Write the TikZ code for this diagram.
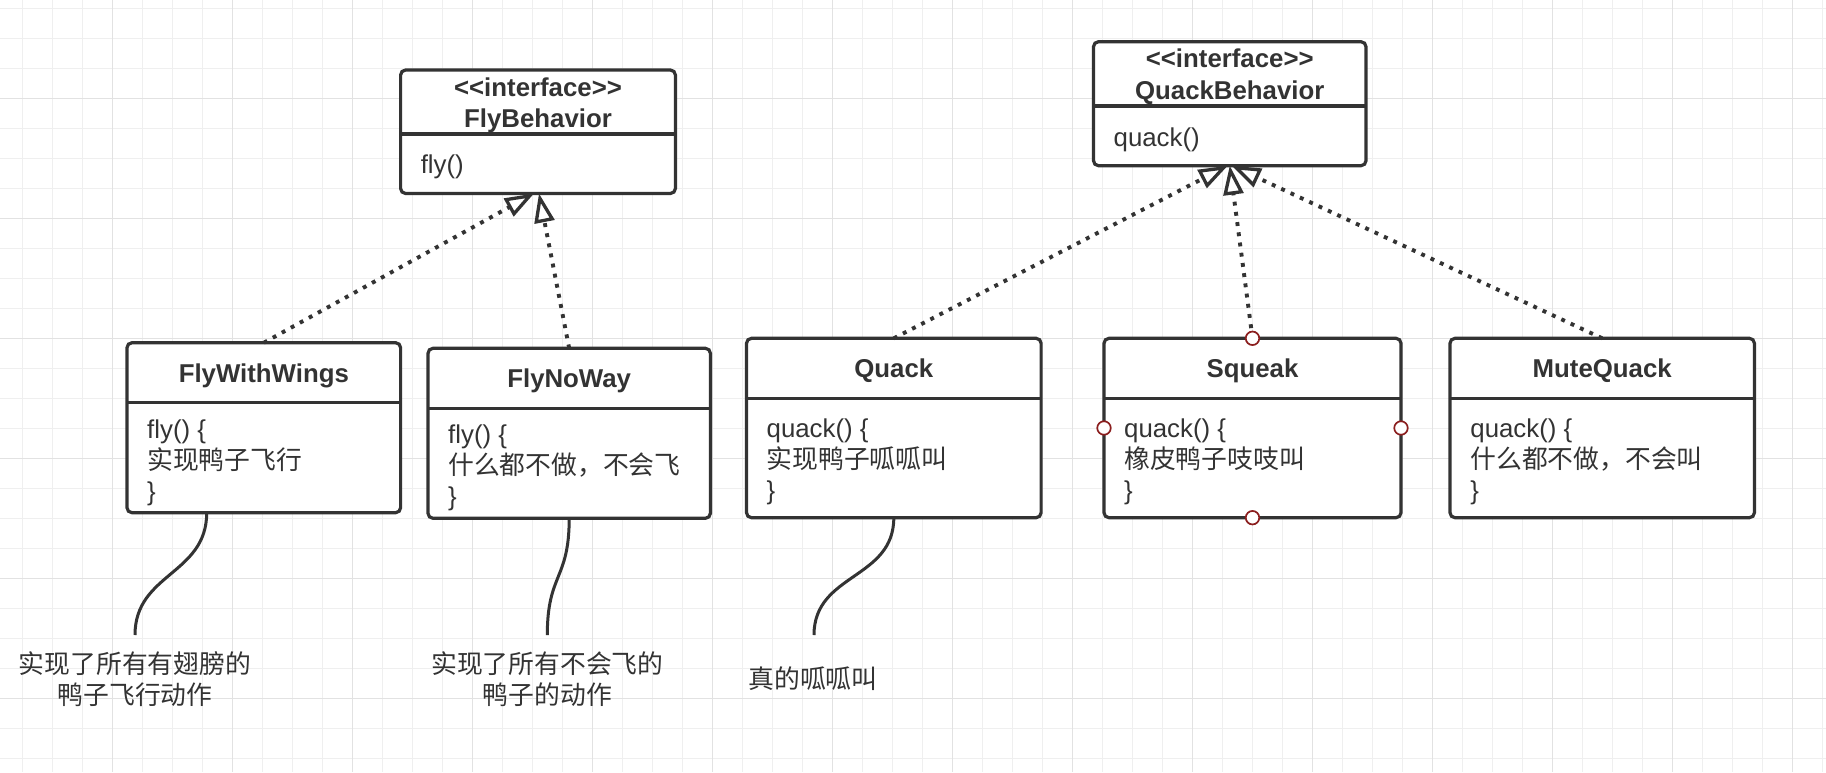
\documentclass[tikz,border=0pt]{standalone}
\usepackage{fontspec}
\newfontfamily\arialf{Liberation Sans}
\newfontfamily\cjk{Noto Sans CJK SC}
\usetikzlibrary{arrows.meta,calc}
\definecolor{ink}{HTML}{333333}
\definecolor{gridminor}{HTML}{EFEFEF}
\definecolor{gridmajor}{HTML}{E2E2E2}
\definecolor{handlered}{HTML}{8B1E1E}
\begin{document}
\begin{tikzpicture}[x=1pt,y=-1pt,
  lbl/.style={font=\arialf\fontsize{25.8}{31}\selectfont, text=ink, inner sep=0pt, anchor=base},
  lblw/.style={lbl, anchor=base west},
  bld/.style={lbl, font=\arialf\bfseries\fontsize{25.8}{31}\selectfont},
  classbox/.style={draw=ink, line width=3.2pt, rounded corners=5pt, fill=white, outer sep=0pt, inner sep=0pt},
  divline/.style={draw=ink, line width=3.2pt},
  realize/.style={draw=ink, line width=3.9pt, dash pattern=on 3.9pt off 6.4pt,
    -{Triangle[length=29pt,width=20pt,fill=white,line width=3.3pt]}},
  notecurve/.style={draw=ink, line width=3pt},
  handle/.style={circle, draw=handlered, line width=1.7pt, fill=white, minimum size=13.5pt, inner sep=0pt}
]
% background and grid
\fill[white] (0,0) rectangle (1826,772);
\useasboundingbox (0,0) rectangle (1826,772);
\foreach \i in {0,...,60} \draw[gridminor, line width=1.5pt] (22.7+30*\i,0) -- (22.7+30*\i,772);
\foreach \j in {0,...,25} \draw[gridminor, line width=1.5pt] (0,8.3+30*\j) -- (1826,8.3+30*\j);
\foreach \i in {0,...,14} \draw[gridmajor, line width=1.5pt] (112.7+120*\i,0) -- (112.7+120*\i,772);
\foreach \j in {0,...,5} \draw[gridmajor, line width=1.5pt] (0,98.3+120*\j) -- (1826,98.3+120*\j);

% FlyBehavior
\node[classbox, minimum width=274.8pt, minimum height=123.5pt] (fb) at (538,131.75) {};
\draw[divline] ($(fb.north west)+(0,64)$) -- ($(fb.north east)+(0,64)$);
\node[bld] (fbs) at (538,96) {<<interface>>};
\node[bld] (fbn) at (538,127.3) {FlyBehavior};
\node[lblw] (fbm) at (420.6,173.5) {fly()};

% QuackBehavior
\node[classbox, minimum width=272.5pt, minimum height=124pt] (qb) at (1229.75,103.7) {};
\draw[divline] ($(qb.north west)+(0,64.3)$) -- ($(qb.north east)+(0,64.3)$);
\node[bld] (qbs) at (1229.75,67.3) {<<interface>>};
\node[bld] (qbn) at (1229.75,99) {QuackBehavior};
\node[lblw] (qbm) at (1113.5,146) {quack()};

% FlyWithWings
\node[classbox, minimum width=273.6pt, minimum height=170pt] (fww) at (263.8,427.7) {};
\draw[divline] ($(fww.north west)+(0,60)$) -- ($(fww.north east)+(0,60)$);
\node[bld] (fwwt) at (263.8,382.5) {FlyWithWings};
\node[lblw] (fww1) at (147,438) {fly() \{};
\node[lblw] (fww2) at (147,469) {\cjk 实现鸭子飞行};
\node[lblw] (fww3) at (147,500) {\}};

% FlyNoWay
\node[classbox, minimum width=282.4pt, minimum height=170pt] (fnw) at (569.2,433.3) {};
\draw[divline] ($(fnw.north west)+(0,60)$) -- ($(fnw.north east)+(0,60)$);
\node[bld] (fnwt) at (569.2,387.5) {FlyNoWay};
\node[lblw] (fnw1) at (448,443) {fly() \{};
\node[lblw] (fnw2) at (448,474) {\cjk 什么都不做，不会飞};
\node[lblw] (fnw3) at (448,505) {\}};

% Quack
\node[classbox, minimum width=294.6pt, minimum height=179.4pt] (qk) at (893.8,428) {};
\draw[divline] ($(qk.north west)+(0,60)$) -- ($(qk.north east)+(0,60)$);
\node[bld] (qkt) at (893.8,377.5) {Quack};
\node[lblw] (qk1) at (766.5,437.5) {quack() \{};
\node[lblw] (qk2) at (766.5,468.5) {\cjk 实现鸭子呱呱叫};
\node[lblw] (qk3) at (766.5,499.5) {\}};

% Squeak
\node[classbox, minimum width=297pt, minimum height=179.4pt] (sq) at (1252.5,428) {};
\draw[divline] ($(sq.north west)+(0,60)$) -- ($(sq.north east)+(0,60)$);
\node[bld] (sqt) at (1252.5,377.5) {Squeak};
\node[lblw] (sq1) at (1124,437.5) {quack() \{};
\node[lblw] (sq2) at (1124,468.5) {\cjk 橡皮鸭子吱吱叫};
\node[lblw] (sq3) at (1124,499.5) {\}};

% MuteQuack
\node[classbox, minimum width=304.4pt, minimum height=179.4pt] (mq) at (1602.2,428) {};
\draw[divline] ($(mq.north west)+(0,60)$) -- ($(mq.north east)+(0,60)$);
\node[bld] (mqt) at (1602.2,377.5) {MuteQuack};
\node[lblw] (mq1) at (1470.2,437.5) {quack() \{};
\node[lblw] (mq2) at (1470.2,468.5) {\cjk 什么都不做，不会叫};
\node[lblw] (mq3) at (1470.2,499.5) {\}};

% notes
\node[lbl] (n1a) at (135,673) {\cjk 实现了所有有翅膀的};
\node[lbl] (n1b) at (135,704) {\cjk 鸭子飞行动作};
\node[lbl] (n2a) at (547.3,673) {\cjk 实现了所有不会飞的};
\node[lbl] (n2b) at (547.3,704) {\cjk 鸭子的动作};
\node[lbl] (n3) at (813,688) {\cjk 真的呱呱叫};
\coordinate (n1top) at (135,635);
\coordinate (n2top) at (547.3,635);
\coordinate (n3top) at (814,635);

\draw[notecurve] ($(fww.south west)+(79.7,0)$) .. controls +(0,62) and +(0,-62) .. (n1top);
\draw[notecurve] (fnw.south) .. controls +(0,62) and +(0,-62) .. (n2top);
\draw[notecurve] (qk.south) .. controls +(0,62) and +(0,-62) .. (n3top);

% realization connectors
\draw[realize] (fww.north) -- ($(fb.south)+(-4,0)$);
\draw[realize] (fnw.north) -- ($(fb.south)+(1,0)$);
\draw[realize] (qk.north) -- ($(qb.south)+(-2,0)$);
\draw[realize] (sq.north) -- (qb.south);
\draw[realize] (mq.north) -- ($(qb.south)+(2,0)$);

% handles on Squeak
\node[handle] (h1) at (sq.north) {};
\node[handle] (h2) at (sq.west) {};
\node[handle] (h3) at (sq.east) {};
\node[handle] (h4) at (sq.south) {};
\end{tikzpicture}
\end{document}
